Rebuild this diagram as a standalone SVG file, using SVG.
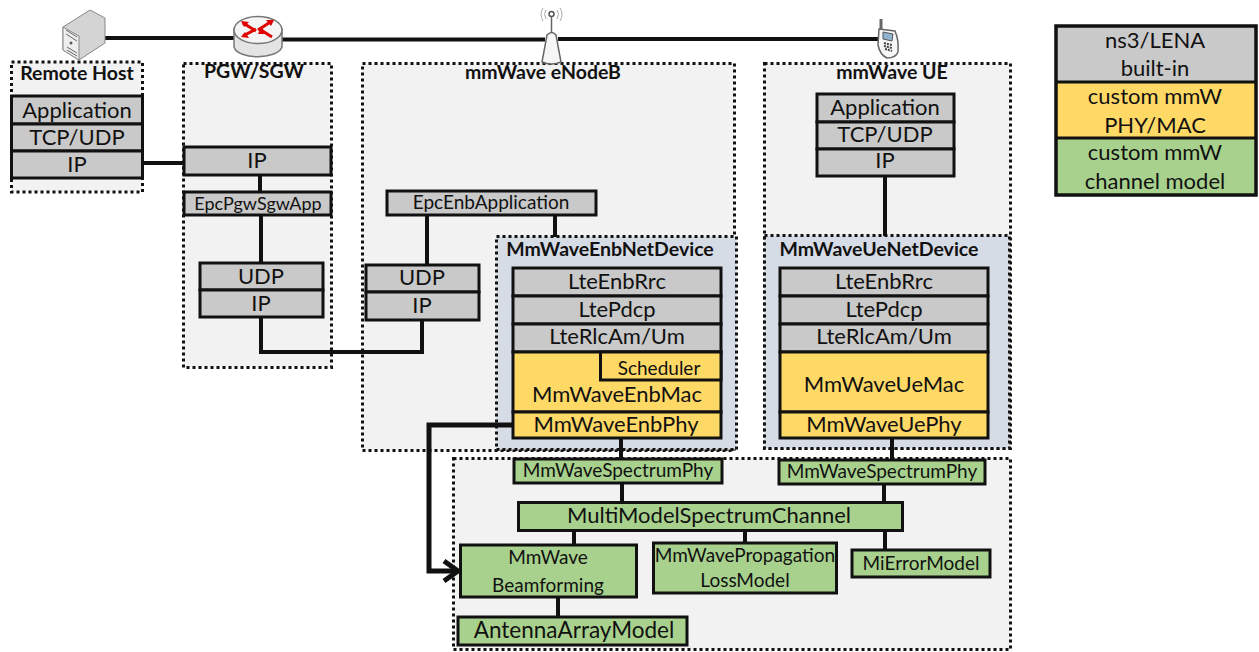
<svg xmlns="http://www.w3.org/2000/svg" width="1259" height="652" viewBox="0 0 1259 652">
<defs><style>
text{font-family:Lato,"Liberation Sans",sans-serif;text-anchor:middle;fill:#111}
.t{font-size:22px}.s{font-size:19px}.h{font-size:19.500px;font-weight:700}
.p{fill:#f2f2f2;stroke:#111;stroke-width:3;stroke-dasharray:3 3}
.d{fill:#d6dce5;stroke:#111;stroke-width:3;stroke-dasharray:3 3}
.g,.y,.n{stroke:#111;stroke-width:3}
.g{fill:#c9c9c9}.y{fill:#ffd966}.n{fill:#a9d18e}
.c{fill:none;stroke:#111;stroke-width:4}
</style></defs>
<g id="panels">
<rect class="p" x="11.500" y="62" width="131" height="130"/>
<rect class="p" x="183.500" y="63.500" width="148" height="304"/>
<rect class="p" x="362.500" y="63.500" width="372" height="387"/>
<rect class="p" x="764.500" y="63.500" width="246" height="385"/>
<rect class="d" x="496.500" y="236.500" width="240" height="213"/>
<rect class="d" x="764.500" y="235.500" width="245" height="213"/>
<rect class="p" x="453.500" y="458.500" width="557" height="191"/>
</g>
<g id="connectors">
<path class="c" d="M105 38H240M282 39.500H545M558 39H878"/>
<path class="c" d="M143 163H184M260 175V192M261 215V263M427 215V265M555 215V237M261 317V352H422V320M885 176V236M621 438V460M892 438V460M622 483V503M884 483V503M574 530V546M745 530V545M885 530V550M558 596V618"/>
<path d="M513 425H429V571H455" fill="none" stroke="#111" stroke-width="5"/>
<path d="M444 561L458 571L444 581" fill="none" stroke="#111" stroke-width="5"/>
</g>
<g id="icon-server"><path d="M63 27L90 10L105 18V43L79 60L63 50Z" fill="#d4d4d4" stroke="#888"/><path d="M63 27L79 36V60L63 50Z" fill="#eee" stroke="#888"/><path d="M66 30L77 37M66 34L77 41M67 50L77 56M67 47L77 53" stroke="#666"/><circle cx="71" cy="43" r="1.500" fill="#555"/></g>
<g id="icon-router"><path d="M234 29V47C238 60 277 60 282 47V29Z" fill="#e4e4e4" stroke="#777" stroke-width="1.500"/><ellipse cx="258" cy="30" rx="24" ry="13.500" fill="#f4f4f4" stroke="#777" stroke-width="1.500"/><path d="M243 23L256 31M272 21L258 30M243 36L256 29M272 37L261 30" stroke="#e00000" stroke-width="3"/><path d="M241 21L249 22L244 27ZM274 20L266 20L271 26ZM241 37L249 38L245 32ZM261 27L267 34L258 34Z" fill="#e00000"/></g>
<g id="icon-antenna"><path d="M542 62L547 35Q552 30 556 35L561 62Q552 66 542 62Z" fill="#f6f6f6" stroke="#666" stroke-width="1.500"/><path d="M551.500 32V16" stroke="#666" stroke-width="1.500"/><circle cx="551.500" cy="14" r="2.500" fill="none" stroke="#555" stroke-width="1.500"/><path d="M546 10Q543 14 546 19M557 10Q560 14 557 19M543 8Q539 14 543 21M560 8Q564 14 560 21" fill="none" stroke="#aaa"/></g>
<g id="icon-phone"><path d="M881 19V30" stroke="#666" stroke-width="3"/><path d="M879 29L895 31Q899 40 898 52Q896 58 887 58Q880 55 878 45Z" fill="#f6f6f6" stroke="#666" stroke-width="1.500"/><path d="M883 32L893 34L892 41L883 39Z" fill="#8fb4d0" stroke="#555"/><path d="M884 43L892 45M884 46L892 48M885 49L892 51" stroke="#444" stroke-width="2" stroke-dasharray="2 1"/></g>
<g id="legend">
<rect x="1056" y="26" width="200" height="56" fill="#c9c9c9"/><rect x="1056" y="82" width="200" height="56" fill="#ffd966"/><rect x="1056" y="138" width="200" height="57" fill="#a9d18e"/>
<rect x="1056" y="26" width="200" height="169" fill="none" stroke="#111" stroke-width="3.500"/><path d="M1056 82H1256M1056 138H1256" stroke="#111" stroke-width="3"/>
<text class="t" x="1155" y="48">ns3/LENA</text><text class="t" x="1155" y="76">built-in</text><text class="t" x="1155" y="104">custom mmW</text><text class="t" x="1155" y="133">PHY/MAC</text><text class="t" x="1155" y="160">custom mmW</text><text class="t" x="1155" y="189">channel model</text>
</g>
<g id="remote-host"><text class="h" x="77" y="80">Remote Host</text>
<rect class="g" x="11.500" y="96" width="131" height="28"/><text class="t" x="77" y="118">Application</text><rect class="g" x="11.500" y="124" width="131" height="27"/><text class="t" x="77" y="145">TCP/UDP</text><rect class="g" x="11.500" y="151" width="131" height="27"/><text class="t" x="77" y="172">IP</text></g>
<g id="pgw-sgw"><text class="h" x="254" y="78">PGW/SGW</text>
<rect class="g" x="184" y="147" width="147" height="28"/><text class="t" x="257" y="168">IP</text><rect class="g" x="184" y="192" width="147" height="23"/><text x="258" y="210" style="font-size:18px">EpcPgwSgwApp</text><rect class="g" x="200" y="263" width="123" height="27"/><text class="t" x="261" y="284">UDP</text><rect class="g" x="200" y="290" width="123" height="27"/><text class="t" x="261" y="311">IP</text></g>
<g id="enodeb"><text class="h" x="543" y="79">mmWave eNodeB</text>
<rect class="g" x="387" y="191" width="209" height="24"/><text class="s" x="491" y="209">EpcEnbApplication</text><rect class="g" x="366" y="265" width="113" height="27"/><text class="t" x="422" y="285">UDP</text><rect class="g" x="366" y="292" width="113" height="28"/><text class="t" x="422" y="313">IP</text></g>
<g id="enb-device"><text class="h" x="610" y="256">MmWaveEnbNetDevice</text>
<rect class="g" x="513" y="268" width="208" height="28"/><text class="t" x="617" y="289">LteEnbRrc</text><rect class="g" x="513" y="296" width="208" height="28"/><text class="t" x="617" y="317">LtePdcp</text><rect class="g" x="513" y="324" width="208" height="28"/><text class="t" x="617" y="344">LteRlcAm/Um</text>
<rect class="y" x="513" y="352" width="208" height="60"/><rect class="y" x="600.500" y="352" width="120.500" height="28"/><text class="s" x="659" y="375">Scheduler</text><text class="t" x="617" y="402">MmWaveEnbMac</text><rect class="y" x="513" y="412" width="208" height="26"/><text class="t" x="616" y="432">MmWaveEnbPhy</text></g>
<g id="ue"><text class="h" x="892" y="79">mmWave UE</text>
<rect class="g" x="817" y="94" width="137" height="28"/><text class="t" x="885" y="115">Application</text><rect class="g" x="817" y="122" width="137" height="27"/><text class="t" x="885" y="142">TCP/UDP</text><rect class="g" x="817" y="149" width="137" height="27"/><text class="t" x="885" y="168">IP</text></g>
<g id="ue-device"><text class="h" x="879" y="256">MmWaveUeNetDevice</text>
<rect class="g" x="780" y="268" width="208" height="28"/><text class="t" x="884" y="289">LteEnbRrc</text><rect class="g" x="780" y="296" width="208" height="28"/><text class="t" x="884" y="317">LtePdcp</text><rect class="g" x="780" y="324" width="208" height="28"/><text class="t" x="884" y="344">LteRlcAm/Um</text>
<rect class="y" x="780" y="352" width="208" height="60"/><text class="t" x="884" y="392">MmWaveUeMac</text><rect class="y" x="780" y="412" width="208" height="26"/><text class="t" x="884" y="432">MmWaveUePhy</text></g>
<g id="channel">
<rect class="n" x="514" y="459" width="208" height="24"/><text class="s" x="618" y="477">MmWaveSpectrumPhy</text><rect class="n" x="779" y="460" width="206" height="24"/><text class="s" x="882" y="478">MmWaveSpectrumPhy</text>
<rect class="n" x="518.500" y="502.500" width="384" height="28"/><text class="t" x="709" y="523">MultiModelSpectrumChannel</text>
<rect class="n" x="460.500" y="545" width="176" height="52"/><text class="s" x="548" y="564">MmWave</text><text class="s" x="548" y="592">Beamforming</text>
<rect class="n" x="653.500" y="543" width="183" height="50"/><text class="s" x="745" y="562">MmWavePropagation</text><text class="s" x="745" y="587">LossModel</text>
<rect class="n" x="852" y="550" width="138" height="27"/><text class="s" x="921" y="570">MiErrorModel</text>
<rect class="n" x="458" y="617" width="229" height="28"/><text x="574" y="638" style="font-size:22.500px">AntennaArrayModel</text></g>
</svg>
